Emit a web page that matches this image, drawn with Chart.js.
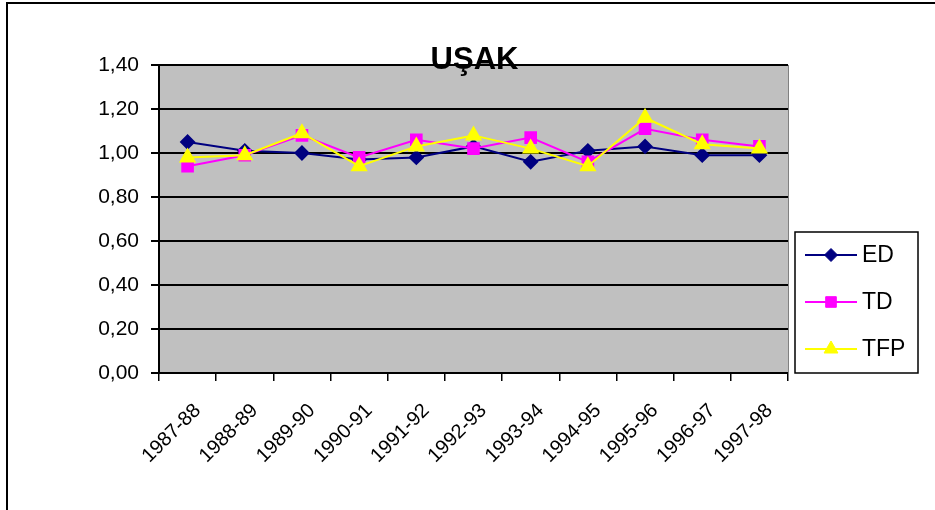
<!DOCTYPE html>
<html>
<head>
<meta charset="utf-8">
<script src="https://cdn.jsdelivr.net/npm/chart.js@4.4.1/dist/chart.umd.min.js"></script>
<style>
  html, body { margin: 0; padding: 0; background: #fff; overflow: hidden; }
  #wrap { position: relative; width: 935px; height: 510px; }
  #frame { position: absolute; left: 6px; top: 2px; width: 960px; height: 540px;
           border-top: 2px solid #000; border-left: 2px solid #000; pointer-events: none; }
  canvas { position: absolute; left: 0; top: 0; }
</style>
</head>
<body>
<div id="wrap">
  <canvas id="c" width="935" height="510"></canvas>
  <div id="frame"></div>
</div>
<script>
const chartTitle = 'UŞAK';
const categories = ['1987-88','1988-89','1989-90','1990-91','1991-92','1992-93','1993-94','1994-95','1995-96','1996-97','1997-98'];
const edValues  = [1.05, 1.01, 1.00, 0.97, 0.98, 1.03, 0.96, 1.01, 1.03, 0.99, 0.99];
const tdValues  = [0.94, 0.99, 1.08, 0.98, 1.06, 1.02, 1.07, 0.96, 1.11, 1.06, 1.03];
const tfpValues = [0.98, 0.99, 1.09, 0.94, 1.03, 1.08, 1.02, 0.94, 1.16, 1.04, 1.02];
const seriesNames = ['ED', 'TD', 'TFP'];
const yMin = 0, yMax = 1.4, yStep = 0.2;

const FONT = "'Liberation Sans', Arial, sans-serif";

const bgPlugin = {
  id: 'plotBg',
  beforeDraw(chart) {
    const a = chart.chartArea, ctx = chart.ctx;
    ctx.save();
    ctx.fillStyle = '#C0C0C0';
    ctx.fillRect(a.left, a.top, a.right - a.left, a.bottom - a.top);
    ctx.restore();
  },
  afterDraw(chart) {
    const a = chart.chartArea, ctx = chart.ctx;
    ctx.save();
    ctx.strokeStyle = '#808080';
    ctx.lineWidth = 1;
    ctx.beginPath();
    ctx.moveTo(a.right + 0.5, a.top);
    ctx.lineTo(a.right + 0.5, a.bottom);
    ctx.stroke();
    // title
    ctx.fillStyle = '#000';
    ctx.font = "bold 31px " + FONT;
    ctx.textAlign = 'center';
    ctx.textBaseline = 'alphabetic';
    ctx.fillText(chartTitle, (a.left + a.right) / 2 + 1, a.top + 4);
    // legend box
    const bx = a.right + 7, bw = 123, bh = 141, by = a.bottom - bh;
    ctx.fillStyle = '#fff';
    ctx.fillRect(bx, by, bw, bh);
    ctx.strokeStyle = '#000';
    ctx.lineWidth = 1.5;
    ctx.strokeRect(bx, by, bw, bh);
    chart.data.datasets.forEach((ds, i) => {
      const cy = by + 23 + i * 47;
      ctx.strokeStyle = ds.borderColor;
      ctx.lineWidth = 2;
      ctx.beginPath();
      ctx.moveTo(bx + 10, cy);
      ctx.lineTo(bx + 62, cy);
      ctx.stroke();
      ctx.fillStyle = ds.backgroundColor;
      ctx.strokeStyle = ds.borderColor;
      ctx.lineWidth = 1;
      Chart.helpers.drawPoint(ctx, {
        pointStyle: ds.pointStyle, rotation: 0, borderWidth: 1, radius: ds.pointRadius
      }, bx + 36, cy);
      ctx.fillStyle = '#000';
      ctx.font = "23px " + FONT;
      ctx.textAlign = 'left';
      ctx.textBaseline = 'middle';
      ctx.fillText(ds.label, bx + 67, cy + 1);
    });
    ctx.restore();
  }
};

new Chart(document.getElementById('c'), {
  type: 'line',
  data: {
    labels: categories,
    datasets: [
      { label: seriesNames[0], data: edValues, borderColor: '#000080', backgroundColor: '#000080',
        borderWidth: 2, pointStyle: 'rectRot', pointRadius: 6.5, pointHoverRadius: 6.5, order: 2 },
      { label: seriesNames[1], data: tdValues, borderColor: '#FF00FF', backgroundColor: '#FF00FF',
        borderWidth: 2, pointStyle: 'rect', pointRadius: 7.5, pointHoverRadius: 7.5, order: 1 },
      { label: seriesNames[2], data: tfpValues, borderColor: '#FFFF00', backgroundColor: '#FFFF00',
        borderWidth: 2, pointStyle: 'triangle', pointRadius: 8, pointHoverRadius: 8, order: 0 }
    ]
  },
  options: {
    responsive: false,
    animation: false,
    events: [],
    layout: { padding: { left: 0, right: 147, top: 65, bottom: 0 } },
    plugins: { legend: { display: false }, title: { display: false }, tooltip: { enabled: false } },
    elements: { line: { tension: 0 } },
    scales: {
      x: {
        offset: true,
        grid: { offset: true, drawOnChartArea: false, drawTicks: true, tickLength: 8, color: '#000', lineWidth: 1.5 },
        border: { display: true, color: '#000', width: 2 },
        ticks: { color: '#000', font: { family: FONT, size: 20 }, minRotation: 45, maxRotation: 45,
                 padding: 18, labelOffset: 10, autoSkip: false },
        afterFit(s) { s.height = 137; }
      },
      y: {
        min: yMin, max: yMax,
        grid: { color: '#000', lineWidth: 2, drawTicks: true, tickLength: 8, tickColor: '#000' },
        border: { display: true, color: '#000', width: 2 },
        ticks: { stepSize: yStep, color: '#000', font: { family: FONT, size: 21 }, padding: 12,
                 callback: v => v.toFixed(2).replace('.', ',') },
        afterFit(s) { s.width = 159; }
      }
    }
  },
  plugins: [bgPlugin]
});
</script>
</body>
</html>
